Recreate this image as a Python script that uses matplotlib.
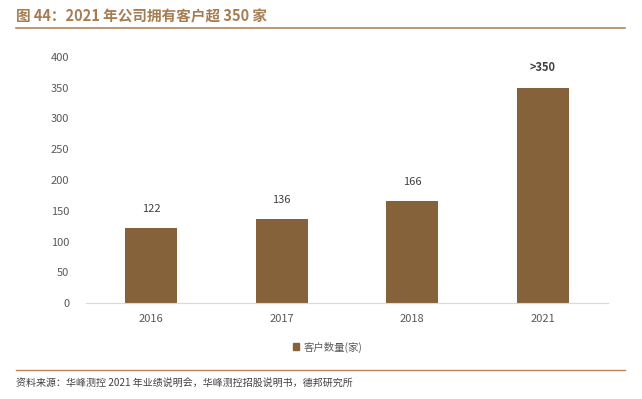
import matplotlib
matplotlib.use("Agg")
import matplotlib.pyplot as plt
from matplotlib.lines import Line2D
from matplotlib.patches import Patch

plt.rcParams['font.family'] = ['Noto Sans CJK SC', 'DejaVu Sans']

categories = ["2016", "2017", "2018", "2021"]
values = [122, 136, 166, 350]
labels = ["122", "136", "166", ">350"]
yticks = [0, 50, 100, 150, 200, 250, 300, 350, 400]
series_name = "客户数量(家)"
title = "图 44：2021 年公司拥有客户超 350 家"
source = "资料来源：华峰测控 2021 年业绩说明会，华峰测控招股说明书，德邦研究所"

W, H = 642, 399
fig = plt.figure(figsize=(W/100, H/100), dpi=100)
bar_color = "#86623A"
brown = "#A67C52"

ax = fig.add_axes([86/W, 1-303/H, (608-86)/W, (303-57)/H])
x = range(len(categories))
ax.bar(x, values, width=0.4, color=bar_color)
ax.set_xlim(-0.5, len(categories)-0.5)
ax.set_ylim(0, 400)
ax.set_yticks(yticks)
ax.set_xticks(list(x))
ax.set_xticklabels(categories)
for s in ["top", "right", "left"]:
    ax.spines[s].set_visible(False)
ax.spines["bottom"].set_color("#D9D9D9")
ax.tick_params(axis="both", length=0, labelsize=8, colors="#595959", pad=8)
ax.tick_params(axis="y", pad=12)
for xi, v, lab in zip(x, values, labels):
    ax.annotate(lab, (xi, v), xytext=(0, 10), textcoords="offset points",
                ha="center", va="bottom", fontsize=8, color="#404040",
                fontweight="bold" if lab.startswith(">") else "normal")

fig.legend(handles=[Patch(color=bar_color)], labels=[series_name],
           loc="center", bbox_to_anchor=(0.51, 1-347/H), frameon=False,
           fontsize=7.5, handlelength=0.6, handleheight=0.6, handletextpad=0.4,
           labelcolor="#595959")

fig.text(16/W, 1-16/H, title, fontsize=10.5, fontweight="bold", color=brown,
         ha="left", va="center")
fig.add_artist(Line2D([16/W, 625/W], [1-28/H, 1-28/H], color="#B08860", lw=1.2))
fig.add_artist(Line2D([16/W, 625/W], [1-370/H, 1-370/H], color="#C0855A", lw=1.0))
fig.text(16/W, 1-383/H, source, fontsize=7.2, color="#404040", ha="left", va="center")

fig.savefig("out.png", dpi=100)
